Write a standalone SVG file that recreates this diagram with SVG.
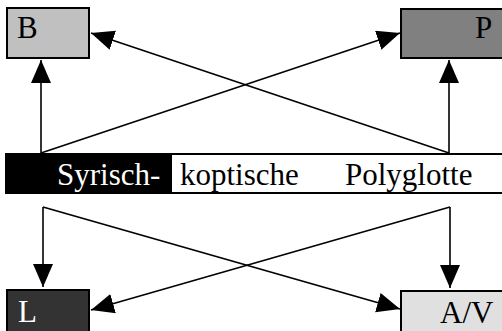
<svg xmlns="http://www.w3.org/2000/svg" width="502" height="331" viewBox="0 0 502 331">
  <style>
    .box { stroke: #000; stroke-width: 2; }
    .lbl { font-family: 'Liberation Serif', 'Times New Roman', serif; font-size: 31px; }
    .conn { stroke: #000; stroke-width: 1.6; fill: none; marker-end: url(#head); }
  </style>
  <defs>
    <marker id="head" markerUnits="userSpaceOnUse" markerWidth="26" markerHeight="22" refX="23" refY="10" orient="auto">
      <path d="M0,0 L23,10 L0,20 Z" fill="#000"/>
    </marker>
  </defs>
  <rect width="502" height="331" fill="#fff"/>

  <g id="node-B">
    <rect class="box" x="7" y="8" width="82" height="50" fill="#c0c0c0"/>
    <text class="lbl" x="17" y="38" fill="#000">B</text>
  </g>
  <g id="node-P">
    <rect class="box" x="401" y="9" width="104" height="49" fill="#808080"/>
    <text class="lbl" x="475" y="38" fill="#000">P</text>
  </g>
  <g id="node-L">
    <rect class="box" x="7" y="290" width="82" height="44" fill="#333333"/>
    <text class="lbl" x="18" y="322" fill="#fff">L</text>
  </g>
  <g id="node-AV">
    <rect class="box" x="401" y="291" width="104" height="44" fill="#e0e0e0"/>
    <text class="lbl" x="440" y="323" fill="#000">A/V</text>
  </g>

  <g id="node-title">
    <rect class="box" x="6" y="154" width="500" height="39" fill="#fff"/>
    <rect x="6" y="154" width="166" height="39" fill="#000"/>
    <text class="lbl" x="57" y="185" fill="#fff">Syrisch-</text>
    <text class="lbl" x="180" y="185" fill="#000">koptische</text>
    <text class="lbl" x="345" y="185" fill="#000">Polyglotte</text>
  </g>

  <g id="connectors">
    <line class="conn" x1="41" y1="153" x2="41" y2="60"/>
    <line class="conn" x1="41" y1="153" x2="400" y2="33"/>
    <line class="conn" x1="449" y1="153" x2="449" y2="60"/>
    <line class="conn" x1="449" y1="153" x2="91" y2="33"/>
    <line class="conn" x1="43" y1="207" x2="43" y2="287"/>
    <line class="conn" x1="43" y1="207" x2="400" y2="309"/>
    <line class="conn" x1="450" y1="207" x2="450" y2="288"/>
    <line class="conn" x1="450" y1="207" x2="91" y2="310"/>
  </g>
</svg>
